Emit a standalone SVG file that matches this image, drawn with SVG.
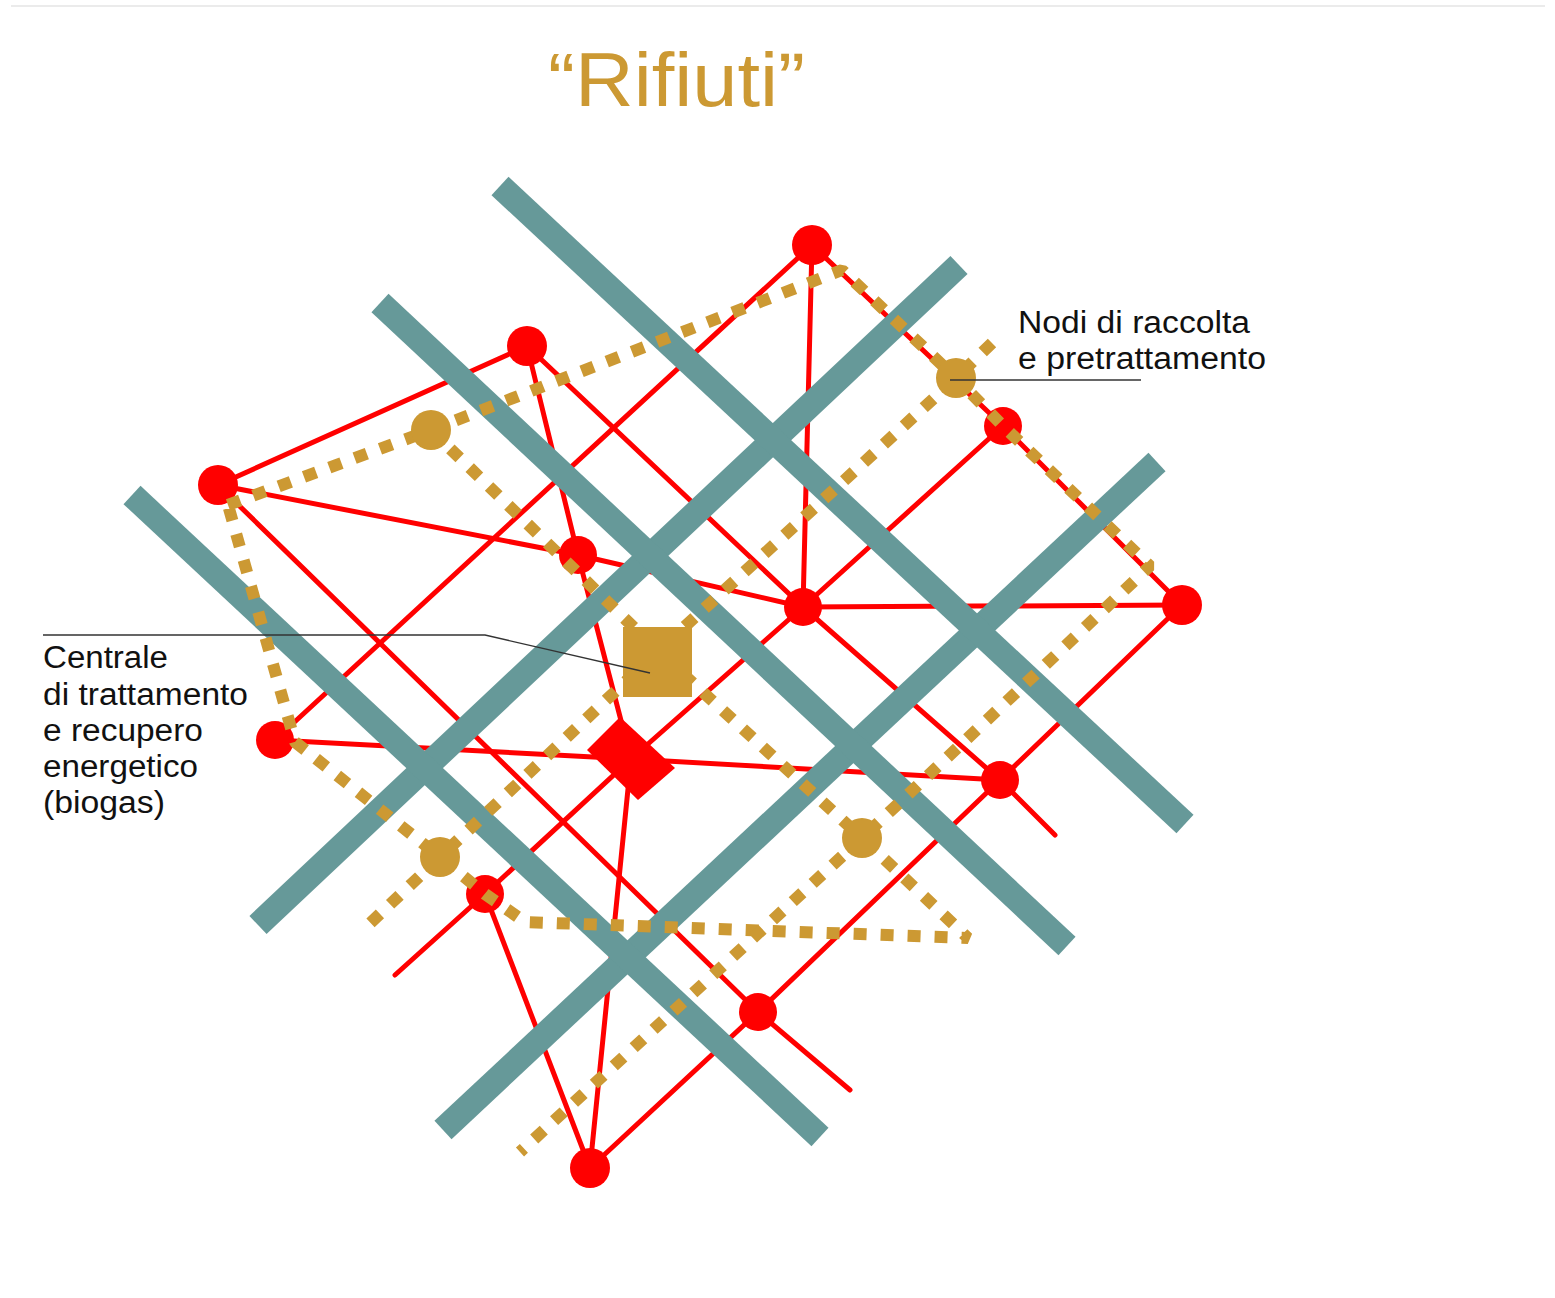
<svg xmlns="http://www.w3.org/2000/svg" width="1555" height="1298" viewBox="0 0 1555 1298">
<style>
.road{stroke:#669999;stroke-width:25;fill:none;stroke-linecap:butt}
.red{stroke:#ff0000;stroke-width:5;fill:none;stroke-linejoin:round;stroke-linecap:round}
.rn{fill:#ff0000}
.dot{stroke:#cc9933;stroke-width:12;fill:none;stroke-dasharray:13 14;stroke-linecap:butt;stroke-linejoin:bevel}
.gn{fill:#cc9933}
.lead{stroke:#333333;stroke-width:1.3;fill:none}
.lbl{font-family:"Liberation Sans",Arial,sans-serif;font-size:31px;fill:#111111}
.title{font-family:"Liberation Sans",Arial,sans-serif;font-size:76px;fill:#cc9933}
</style>
<rect width="1555" height="1298" fill="#ffffff"/>
<line x1="11" y1="6" x2="1545" y2="6" stroke="#ebebeb" stroke-width="2"/>

<text class="title" x="548" y="106" textLength="257" lengthAdjust="spacingAndGlyphs">“Rifiuti”</text>

<g id="connectors">
  <polyline class="red" points="812,245 1003,426 1182,605"/>
  <polyline class="red" points="812,245 803,607"/>
  <polyline class="red" points="812,245 275,740"/>
  <polyline class="red" points="527,346 218,485"/>
  <polyline class="red" points="527,346 578,555 631,759"/>
  <polyline class="red" points="527,346 803,607 1000,780 1055,835"/>
  <polyline class="red" points="218,485 578,555 803,607 1182,605"/>
  <polyline class="red" points="218,485 758,1012 850,1090"/>
  <polyline class="red" points="275,740 631,759 1000,780"/>
  <polyline class="red" points="631,759 803,607 1003,426"/>
  <polyline class="red" points="631,759 485,894 395,975"/>
  <polyline class="red" points="631,759 590,1168"/>
  <polyline class="red" points="1182,605 1000,780 758,1012 590,1168"/>
  <polyline class="red" points="485,894 590,1168"/>
</g>

<g id="roads">
  <line class="road" x1="959" y1="265" x2="258" y2="925"/>
  <line class="road" x1="1157" y1="462" x2="443" y2="1130"/>
  <line class="road" x1="132" y1="495" x2="820" y2="1137"/>
  <line class="road" x1="380" y1="303" x2="1067" y2="946"/>
  <line class="road" x1="500" y1="186" x2="1185" y2="824"/>
</g>

<g id="red-nodes">
  <g id="n1"><circle class="rn" cx="812" cy="245" r="20"/></g>
  <g id="n2"><circle class="rn" cx="527" cy="346" r="20"/></g>
  <g id="n3"><circle class="rn" cx="218" cy="485" r="20"/></g>
  <g id="n4"><circle class="rn" cx="578" cy="555" r="19"/></g>
  <g id="n5"><circle class="rn" cx="1003" cy="426" r="19"/></g>
  <g id="n6"><circle class="rn" cx="803" cy="607" r="19"/></g>
  <g id="n7"><circle class="rn" cx="1182" cy="605" r="20"/></g>
  <g id="n8"><circle class="rn" cx="275" cy="740" r="19"/></g>
  <g id="n10"><circle class="rn" cx="1000" cy="780" r="19"/></g>
  <g id="n11"><circle class="rn" cx="485" cy="894" r="19"/></g>
  <g id="n12"><circle class="rn" cx="758" cy="1012" r="19"/></g>
  <g id="n13"><circle class="rn" cx="590" cy="1168" r="20"/></g>
  <g id="centrale-diamond"><polygon class="rn" points="620,717 675,768 638,800 587,750"/></g>
</g>

<g id="dotted-connectors">
  <path class="dot" d="M228,505 L431,430 L842,270 L956,378 L1003,426 L1150,566 L862,838 L968,938 L525,922 L485,894 L440,857 L295,742 Z"/>
  <path class="dot" d="M431,430 L657,650 L862,838"/>
  <path class="dot" d="M992,343 L956,378 L657,652 L440,857 L365,928"/>
  <path class="dot" d="M862,838 L520,1152"/>
</g>

<g id="gold-nodes">
  <g id="g1"><circle class="gn" cx="431" cy="430" r="20"/></g>
  <g id="g2"><circle class="gn" cx="956" cy="378" r="20"/></g>
  <g id="g3"><circle class="gn" cx="862" cy="838" r="20"/></g>
  <g id="g4"><circle class="gn" cx="440" cy="857" r="20"/></g>
  <g id="centrale"><rect class="gn" x="623" y="627" width="69" height="70"/></g>
</g>

<g id="label-nodi">
  <polyline class="lead" points="950,380 1141,380"/>
  <text class="lbl" x="1018" y="333" textLength="232" lengthAdjust="spacingAndGlyphs">Nodi di raccolta</text>
  <text class="lbl" x="1018" y="369" textLength="248" lengthAdjust="spacingAndGlyphs">e pretrattamento</text>
</g>

<g id="label-centrale">
  <polyline class="lead" points="43,635 485,635 650,673"/>
  <text class="lbl" x="43" y="668" textLength="125" lengthAdjust="spacingAndGlyphs">Centrale</text>
  <text class="lbl" x="43" y="705" textLength="205" lengthAdjust="spacingAndGlyphs">di trattamento</text>
  <text class="lbl" x="43" y="741" textLength="160" lengthAdjust="spacingAndGlyphs">e recupero</text>
  <text class="lbl" x="43" y="777" textLength="155" lengthAdjust="spacingAndGlyphs">energetico</text>
  <text class="lbl" x="43" y="813" textLength="122" lengthAdjust="spacingAndGlyphs">(biogas)</text>
</g>
</svg>
